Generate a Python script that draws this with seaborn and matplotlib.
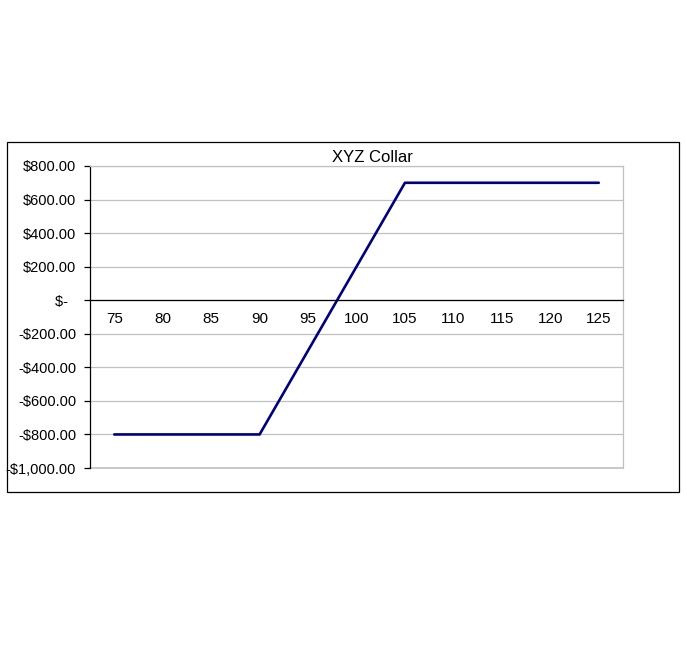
import matplotlib
matplotlib.use("Agg")
import matplotlib.pyplot as plt
import matplotlib.patches as mpatches
import seaborn as sns
import pandas as pd
import numpy as np

# Data
prices = [75, 80, 85, 90, 95, 100, 105, 110, 115, 120, 125]
profit = [-800, -800, -800, -800, -300, 200, 700, 700, 700, 700, 700]
y_ticks = [-1000, -800, -600, -400, -200, 0, 200, 400, 600, 800]
title = "XYZ Collar"

sns.set_theme(style="white")
plt.rcParams['font.family'] = ['Liberation Sans', 'DejaVu Sans']
plt.rcParams['text.color'] = 'black'
plt.rcParams['xtick.color'] = 'black'
plt.rcParams['ytick.color'] = 'black'

fig = plt.figure(figsize=(6.87, 6.60), dpi=100)
W, H = 687, 660
# outer chart frame
fig.patches.append(mpatches.Rectangle((7 / W, 1 - 492 / H), (679 - 7) / W, (492 - 142) / H,
                                      transform=fig.transFigure, fill=False,
                                      edgecolor='black', linewidth=0.9))

ax = fig.add_axes([90 / W, 1 - 468 / H, (623 - 90) / W, (468 - 166) / H])
df = pd.DataFrame({"price": prices, "profit": profit})
sns.lineplot(data=df, x="price", y="profit", ax=ax, color="#000080", linewidth=1.9)

ax.set_xlim(72.5, 127.5)
ax.set_ylim(-1000, 800)
ax.set_yticks(y_ticks)

def fmt(v):
    if v == 0:
        return "$-  "
    s = "${:,.2f}".format(abs(v))
    return "-" + s if v < 0 else s

ax.set_yticklabels([fmt(v) for v in y_ticks], fontsize=10.5, color='black')
ax.set_xticks(prices)
ax.set_xticklabels([str(p) for p in prices], fontsize=10.5, color='black')
ax.set_xticks([72.5 + 5 * k for k in range(12)], minor=True)
ax.tick_params(axis='x', which='major', length=0, pad=8.5)
ax.tick_params(axis='x', which='minor', length=4, width=0.9, color='black', direction='out')
ax.tick_params(axis='y', which='major', length=4, width=0.9, color='black', direction='out', pad=6, left=True)

ax.set_xlabel("")
ax.set_ylabel("")
ax.grid(axis='y', color='#c0c0c0', linewidth=0.9)
ax.grid(axis='x', visible=False)
ax.set_axisbelow(True)

ax.spines['bottom'].set_position(('data', 0))
ax.spines['bottom'].set_color('black')
ax.spines['bottom'].set_linewidth(0.9)
ax.spines['left'].set_color('black')
ax.spines['left'].set_linewidth(0.9)
ax.spines['top'].set_color('#c0c0c0')
ax.spines['right'].set_color('#c0c0c0')
ax.spines['top'].set_linewidth(0.9)
ax.spines['right'].set_linewidth(0.9)
ax.axhline(-1000, color='#c0c0c0', linewidth=1.2, clip_on=False, zorder=0)

fig.text(372 / W, 1 - 162 / H, title, fontsize=12, color='black', ha='center', va='baseline')

fig.savefig("out.png", dpi=100)
